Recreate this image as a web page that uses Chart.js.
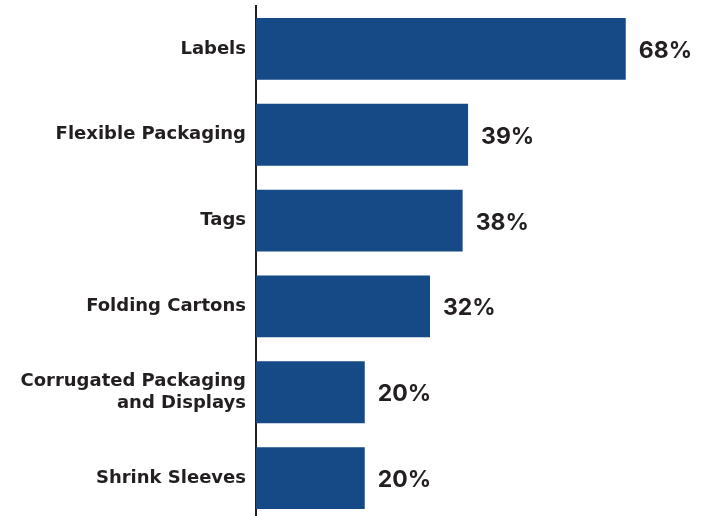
<!DOCTYPE html>
<html lang="en">
<head>
  <meta charset="UTF-8" />
  <title>Packaging Segments</title>
  <script src="https://cdn.jsdelivr.net/npm/chart.js"></script>
  <style>
    html, body { margin: 0; padding: 0; background: #fff; overflow: hidden; }
    /* taller than the window: chart.js reserves room for half a tick label
       above and below, the reference axis runs off the bottom edge */
    .wrap { position: relative; width: 707px; height: 557px; margin-top: -15px; }
  </style>
</head>
<body>
  <div class="wrap">
    <canvas id="barChart"></canvas>
  </div>

  <script>
    const categories = [
      "Labels",
      "Flexible Packaging",
      "Tags",
      "Folding Cartons",
      ["Corrugated Packaging", "and Displays"],
      "Shrink Sleeves"
    ];
    const shares = [68, 39, 38, 32, 20, 20];

    const barColor = "#154a87";
    const textColor = "#231f20";

    // draws the % value to the right of each bar
    const valueLabels = {
      id: "valueLabels",
      afterDatasetsDraw(chart) {
        const ctx = chart.ctx;
        const meta = chart.getDatasetMeta(0);
        ctx.save();
        ctx.font = "bold 23px Inter, sans-serif";
        ctx.fillStyle = textColor;
        ctx.textAlign = "left";
        ctx.textBaseline = "middle";
        meta.data.forEach((bar, i) => {
          ctx.fillText(shares[i] + "%", bar.x + 13, bar.y + 2);
        });
        ctx.restore();
      }
    };

    const ctx = document.getElementById("barChart").getContext("2d");
    new Chart(ctx, {
      type: "bar",
      data: {
        labels: categories,
        datasets: [{
          data: shares,
          backgroundColor: barColor,
          barPercentage: 0.72,
          categoryPercentage: 1.0
        }]
      },
      options: {
        indexAxis: "y",
        responsive: true,
        maintainAspectRatio: false,
        animation: false,
        layout: { padding: { top: 0, right: 16, bottom: 0, left: 0 } },
        plugins: {
          legend: { display: false },
          tooltip: { enabled: false }
        },
        scales: {
          x: {
            display: false,
            min: 0,
            max: 80
          },
          y: {
            afterFit(scale) { scale.width = 256; },
            grid: { display: false, drawTicks: false },
            border: { display: true, color: "#231f20", width: 2 },
            ticks: {
              color: textColor,
              padding: 10,
              font: { family: "'DejaVu Sans', sans-serif", size: 18, weight: "bold", lineHeight: 1.22 }
            }
          }
        }
      },
      plugins: [valueLabels]
    });
  </script>
</body>
</html>
